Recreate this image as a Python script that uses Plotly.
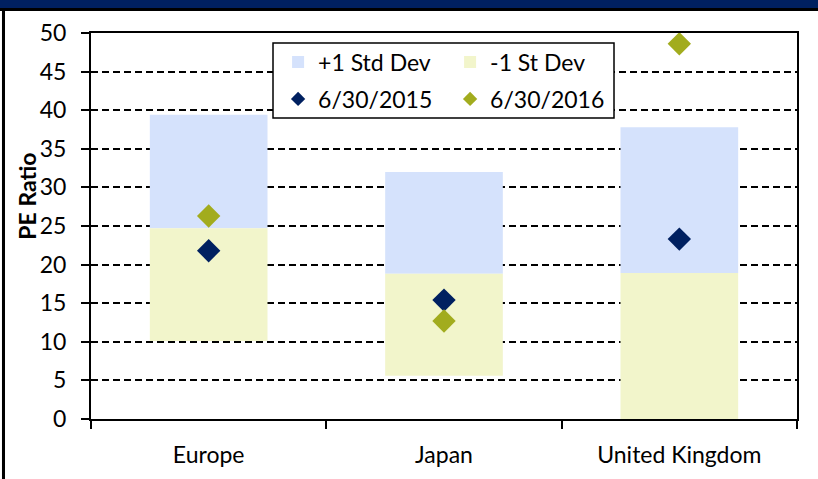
import plotly.graph_objects as go

# PE ratio ranges by region
regions = ["Europe", "Japan", "United Kingdom"]
pe_minus_sd = [10.1, 5.6, 0.0]
pe_avg = [24.7, 18.8, 18.9]
pe_plus_sd = [39.4, 32.0, 37.8]
pe_2015 = [21.8, 15.4, 23.3]
pe_2016 = [26.3, 12.7, 48.6]

blue = "#D5E2FC"
yellow = "#F2F5CB"
navy = "#002060"
olive = "#A2AC1E"
font = "Lato"

fig = go.Figure()

fig.add_trace(go.Bar(x=regions, base=pe_avg,
                     y=[h - m for h, m in zip(pe_plus_sd, pe_avg)],
                     name="+1 Std Dev", marker=dict(color=blue, line_width=0),
                     width=0.5, legend="legend"))
fig.add_trace(go.Bar(x=regions, base=pe_minus_sd,
                     y=[m - l for m, l in zip(pe_avg, pe_minus_sd)],
                     name="-1 St Dev", marker=dict(color=yellow, line_width=0),
                     width=0.5, legend="legend"))

# the diamonds on the chart
fig.add_trace(go.Scatter(x=regions, y=pe_2015, mode="markers", showlegend=False,
                         marker=dict(symbol="diamond", size=18, color=navy)))
fig.add_trace(go.Scatter(x=regions, y=pe_2016, mode="markers", showlegend=False,
                         marker=dict(symbol="diamond", size=18, color=olive)))

# smaller diamonds only for the legend
fig.add_trace(go.Scatter(x=[None], y=[None], mode="markers", name="6/30/2015",
                         marker=dict(symbol="diamond", size=11, color=navy), legend="legend2"))
fig.add_trace(go.Scatter(x=[None], y=[None], mode="markers", name="6/30/2016",
                         marker=dict(symbol="diamond", size=11, color=olive), legend="legend2"))

leg = dict(orientation="h", xanchor="left", yanchor="middle", x=0.265,
           font=dict(family=font, size=23, color="black"), bgcolor="rgba(0,0,0,0)",
           entrywidth=127, entrywidthmode="pixels", traceorder="normal")

fig.update_layout(
    width=818, height=479,
    margin=dict(l=91, r=21, t=33, b=60),
    paper_bgcolor="white", plot_bgcolor="white",
    barmode="overlay",
    font=dict(family=font, size=23, color="black"),
    legend=dict(leg, y=0.925),
    legend2=dict(leg, y=0.829),
    xaxis=dict(type="category", range=[-0.5, 2.5], showline=True, linecolor="black",
               linewidth=2, mirror=True, ticks="outside", tickson="boundaries",
               ticklen=8, tickwidth=1.5, tickcolor="black", ticklabelstandoff=14,
               showgrid=False, tickfont=dict(size=23)),
    yaxis=dict(range=[0, 50], dtick=5, showline=True, linecolor="black", linewidth=2,
               mirror=True, ticks="outside", ticklen=8, tickwidth=1.5, tickcolor="black",
               ticklabelstandoff=10, showgrid=True, gridcolor="black", gridwidth=1.5,
               griddash="7px,4px", zeroline=False, tickfont=dict(size=23)),
    annotations=[dict(text="<b>PE Ratio</b>", textangle=-90, xref="paper", yref="paper",
                      x=-0.091, y=0.578, xanchor="center", yanchor="middle",
                      showarrow=False, font=dict(size=23))],
    shapes=[
        # legend frame
        dict(type="rect", xref="paper", yref="paper", x0=0.2578, x1=0.7408,
             y0=0.7798, y1=0.974, line=dict(color="black", width=1.5), fillcolor="white"),
        # outer frame: navy band, black rule, left border
        dict(type="rect", xref="paper", yref="paper", x0=-0.2, x1=1.1, y0=1.0648, y1=1.2,
             line_width=0, fillcolor=navy),
        dict(type="rect", xref="paper", yref="paper", x0=-0.2, x1=1.1, y0=1.0570, y1=1.0648,
             line_width=0, fillcolor="black"),
        dict(type="rect", xref="paper", yref="paper", x0=-0.1261, x1=-0.1218, y0=-0.2,
             y1=1.06, line_width=0, fillcolor="black"),
    ],
)

# drop the page margin so the figure sits at the window's corner
fig.write_html("out.html", config={"displayModeBar": False},
               post_script="document.body.style.margin='0';")
